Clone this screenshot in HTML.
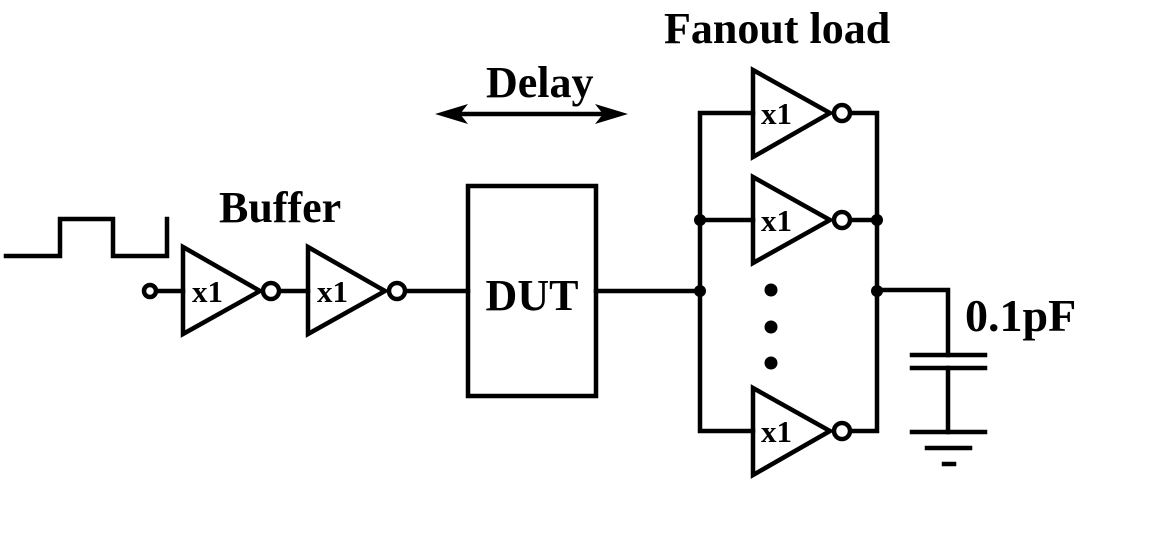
<!DOCTYPE html>
<html><head><style>html,body{margin:0;padding:0;background:#fff;}svg{display:block}</style></head>
<body>
<svg width="1153" height="539" viewBox="0 0 1153 539" xmlns="http://www.w3.org/2000/svg">
<g fill="none" stroke="#000" stroke-width="4.5" stroke-linejoin="miter" stroke-linecap="square">
<polyline points="6,256 60,256 60,219 113,219 113,256 167,256 167,219"/>
<line x1="156" y1="291" x2="183" y2="291"/>
<polygon points="183,247 260,291 183,334"/>
<line x1="280" y1="291" x2="308" y2="291"/>
<polygon points="308,247 385,291 308,334"/>
<line x1="405" y1="291" x2="468" y2="291"/>
<rect x="468" y="186" width="128" height="210"/>
<line x1="596" y1="291" x2="700" y2="291"/>
<polyline points="753,113 700,113 700,431 753,431"/>
<line x1="700" y1="220" x2="753" y2="220"/>
<polyline points="851,113 877,113 877,431 851,431"/>
<line x1="851" y1="220" x2="877" y2="220"/>
<polygon points="753,70 830,113 753,157"/>
<polygon points="753,177 830,220 753,263"/>
<polygon points="753,388 830,431 753,475"/>
<polyline points="877,290 948,290 948,355"/>
<line x1="912" y1="355" x2="985" y2="355"/>
<line x1="912" y1="368" x2="985" y2="368"/>
<line x1="948" y1="368" x2="948" y2="432"/>
<line x1="912" y1="432" x2="985" y2="432"/>
<line x1="927" y1="448" x2="970" y2="448"/>
<line x1="944" y1="464" x2="954" y2="464"/>
<line x1="455" y1="114" x2="610" y2="114"/>
</g>
<g fill="#fff" stroke="#000" stroke-width="4.5">
<circle cx="150" cy="291" r="6"/>
<circle cx="271" cy="291" r="8"/>
<circle cx="397" cy="291" r="8"/>
<circle cx="842" cy="113" r="8"/>
<circle cx="842" cy="220" r="8"/>
<circle cx="842" cy="431" r="8"/>
</g>
<g fill="#000">
<polygon points="435,114 468,104 460,114 468,124"/>
<polygon points="628,114 595,104 603,114 595,124"/>
<circle cx="700" cy="220" r="6"/><circle cx="700" cy="291" r="6"/>
<circle cx="877" cy="220" r="6"/><circle cx="877" cy="291" r="6"/>
<circle cx="771" cy="290" r="6.5"/><circle cx="771" cy="327" r="6.5"/><circle cx="771" cy="363" r="6.5"/>
</g>
<g font-family="'Liberation Serif',serif" font-weight="bold" fill="#000">
<text x="664" y="43" font-size="44">Fanout load</text>
<text x="486" y="97" font-size="44">Delay</text>
<text x="219" y="222" font-size="44">Buffer</text>
<text x="532" y="310" font-size="44" text-anchor="middle">DUT</text>
<text x="965" y="331" font-size="46">0.1pF</text>
<g font-size="31">
<text x="192" y="302">x1</text>
<text x="317" y="302">x1</text>
<text x="761" y="124">x1</text>
<text x="761" y="231">x1</text>
<text x="761" y="442">x1</text>
</g>
</g>
</svg>
</body></html>
